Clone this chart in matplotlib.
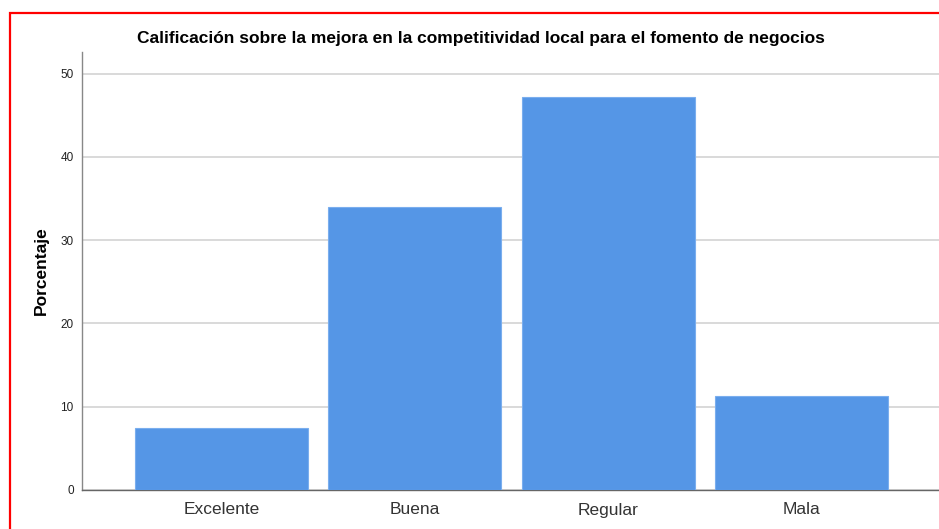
import matplotlib
matplotlib.use('Agg')
import matplotlib.pyplot as plt
from matplotlib.patches import Rectangle

plt.rcParams['font.family'] = ['Liberation Sans', 'DejaVu Sans']

# Data
categories = ['Excelente', 'Buena', 'Regular', 'Mala']
porcentaje = [7.5, 34.0, 47.2, 11.3]
yticks = [0, 10, 20, 30, 40, 50]
title = 'Calificación sobre la mejora en la competitividad local para el fomento de negocios'

fig = plt.figure(figsize=(9.39, 5.29), dpi=100)
ax = fig.add_axes([82/939, 1 - 490/529, 859/939, 438/529])

x = range(len(categories))
ax.bar(x, porcentaje, width=0.895, color='#5596e6', edgecolor='#7aaeee',
       linewidth=0.8, zorder=3)

ax.set_xlim(-0.72, 3.72)
ax.set_ylim(0, 52.6)
ax.set_yticks(yticks)
ax.set_xticks(list(x))
ax.set_xticklabels(categories, fontsize=12.5, color='#333333')
ax.tick_params(axis='y', length=0, labelsize=8.5, pad=6, colors='#222222')
ax.tick_params(axis='x', length=0, pad=9)
ax.yaxis.grid(True, color='#d9d9d9', linewidth=1.4, zorder=0)
ax.set_axisbelow(True)

for s in ['top', 'right']:
    ax.spines[s].set_visible(False)
ax.spines['left'].set_color('#888888')
ax.spines['bottom'].set_color('#666666')
ax.spines['left'].set_linewidth(1.0)
ax.spines['bottom'].set_linewidth(1.0)

ax.set_ylabel('Porcentaje', fontsize=12.5, fontweight='bold', labelpad=8)
fig.text(481/939, 1 - 38/529, title, fontsize=12.5, fontweight='bold',
         ha='center', va='center')

# red frame of the screenshot
fig.patches.append(Rectangle((9.5/939, -0.05), 1.1, 1 - 12.5/529 + 0.05,
                             transform=fig.transFigure, fill=False,
                             edgecolor='#ff0000', linewidth=1.6))

fig.savefig('out.png', dpi=100)
